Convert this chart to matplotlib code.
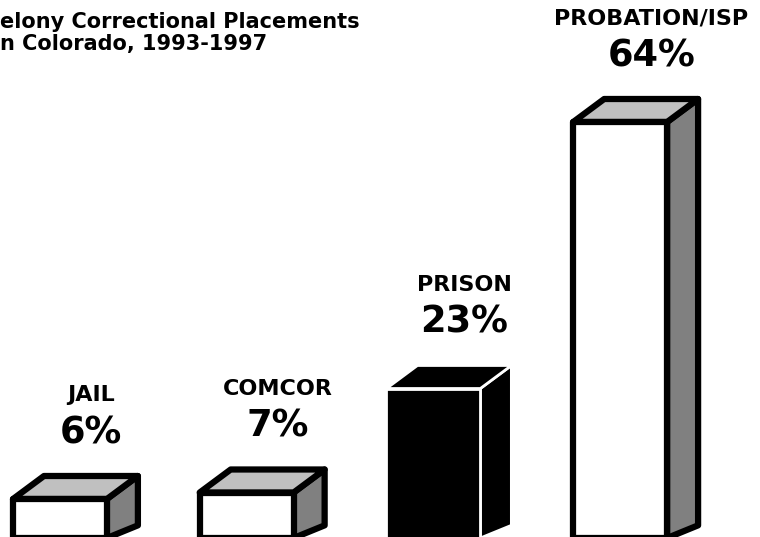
import matplotlib
matplotlib.use("Agg")
import matplotlib.pyplot as plt
from matplotlib.patches import Polygon

# datos
categorias = ["JAIL", "COMCOR", "PRISON", "PROBATION/ISP"]
porcentajes = [6, 7, 23, 64]
etiquetas = ["6%", "7%", "23%", "64%"]
titulo = ["elony Correctional Placements", "n Colorado, 1993-1997"]

ANCHO = 0.503      # ancho frontal de cada caja
DX = 0.166         # profundidad en x
DY = 3.54          # profundidad en y (unidades de %)


def caja(ax, xc, h, frente, arriba, lado, borde, lw):
    x0 = xc - ANCHO / 2
    x1 = xc + ANCHO / 2
    caras = [
        ([(x1, 0), (x1 + DX, DY * 0.55), (x1 + DX, h + DY), (x1, h)], lado),
        ([(x0, h), (x1, h), (x1 + DX, h + DY), (x0 + DX, h + DY)], arriba),
        ([(x0, 0), (x1, 0), (x1, h), (x0, h)], frente),
    ]
    for pts, color in caras:
        ax.add_patch(Polygon(pts, closed=True, facecolor=color, edgecolor=borde,
                             linewidth=lw, joinstyle="round", zorder=3))


fig = plt.figure(figsize=(7.6, 5.37), dpi=100)
ax = fig.add_axes([0, 0, 1, 1])
ax.set_xlim(-0.321, 3.749)
ax.set_ylim(0.154, 82.77)
ax.axis("off")

for i, (cat, v, et) in enumerate(zip(categorias, porcentajes, etiquetas)):
    if cat == "PRISON":
        caja(ax, i, v, "black", "black", "black", "white", 2.0)
    else:
        caja(ax, i, v, "white", "#c0c0c0", "#808080", "black", 4.5)
    ax.annotate(et, (i + DX, v + DY), xytext=(0, 31), textcoords="offset points",
                ha="center", va="center", fontsize=26.5, fontweight="bold")
    ax.annotate(cat, (i + DX, v + DY), xytext=(0, 58), textcoords="offset points",
                ha="center", va="center", fontsize=16, fontweight="bold")

fig.text(0.0, 1 - 28 / 537, titulo[0], fontsize=15, fontweight="bold", va="baseline")
fig.text(0.0, 1 - 50 / 537, titulo[1], fontsize=15, fontweight="bold", va="baseline")

fig.savefig("out.png", dpi=100)
